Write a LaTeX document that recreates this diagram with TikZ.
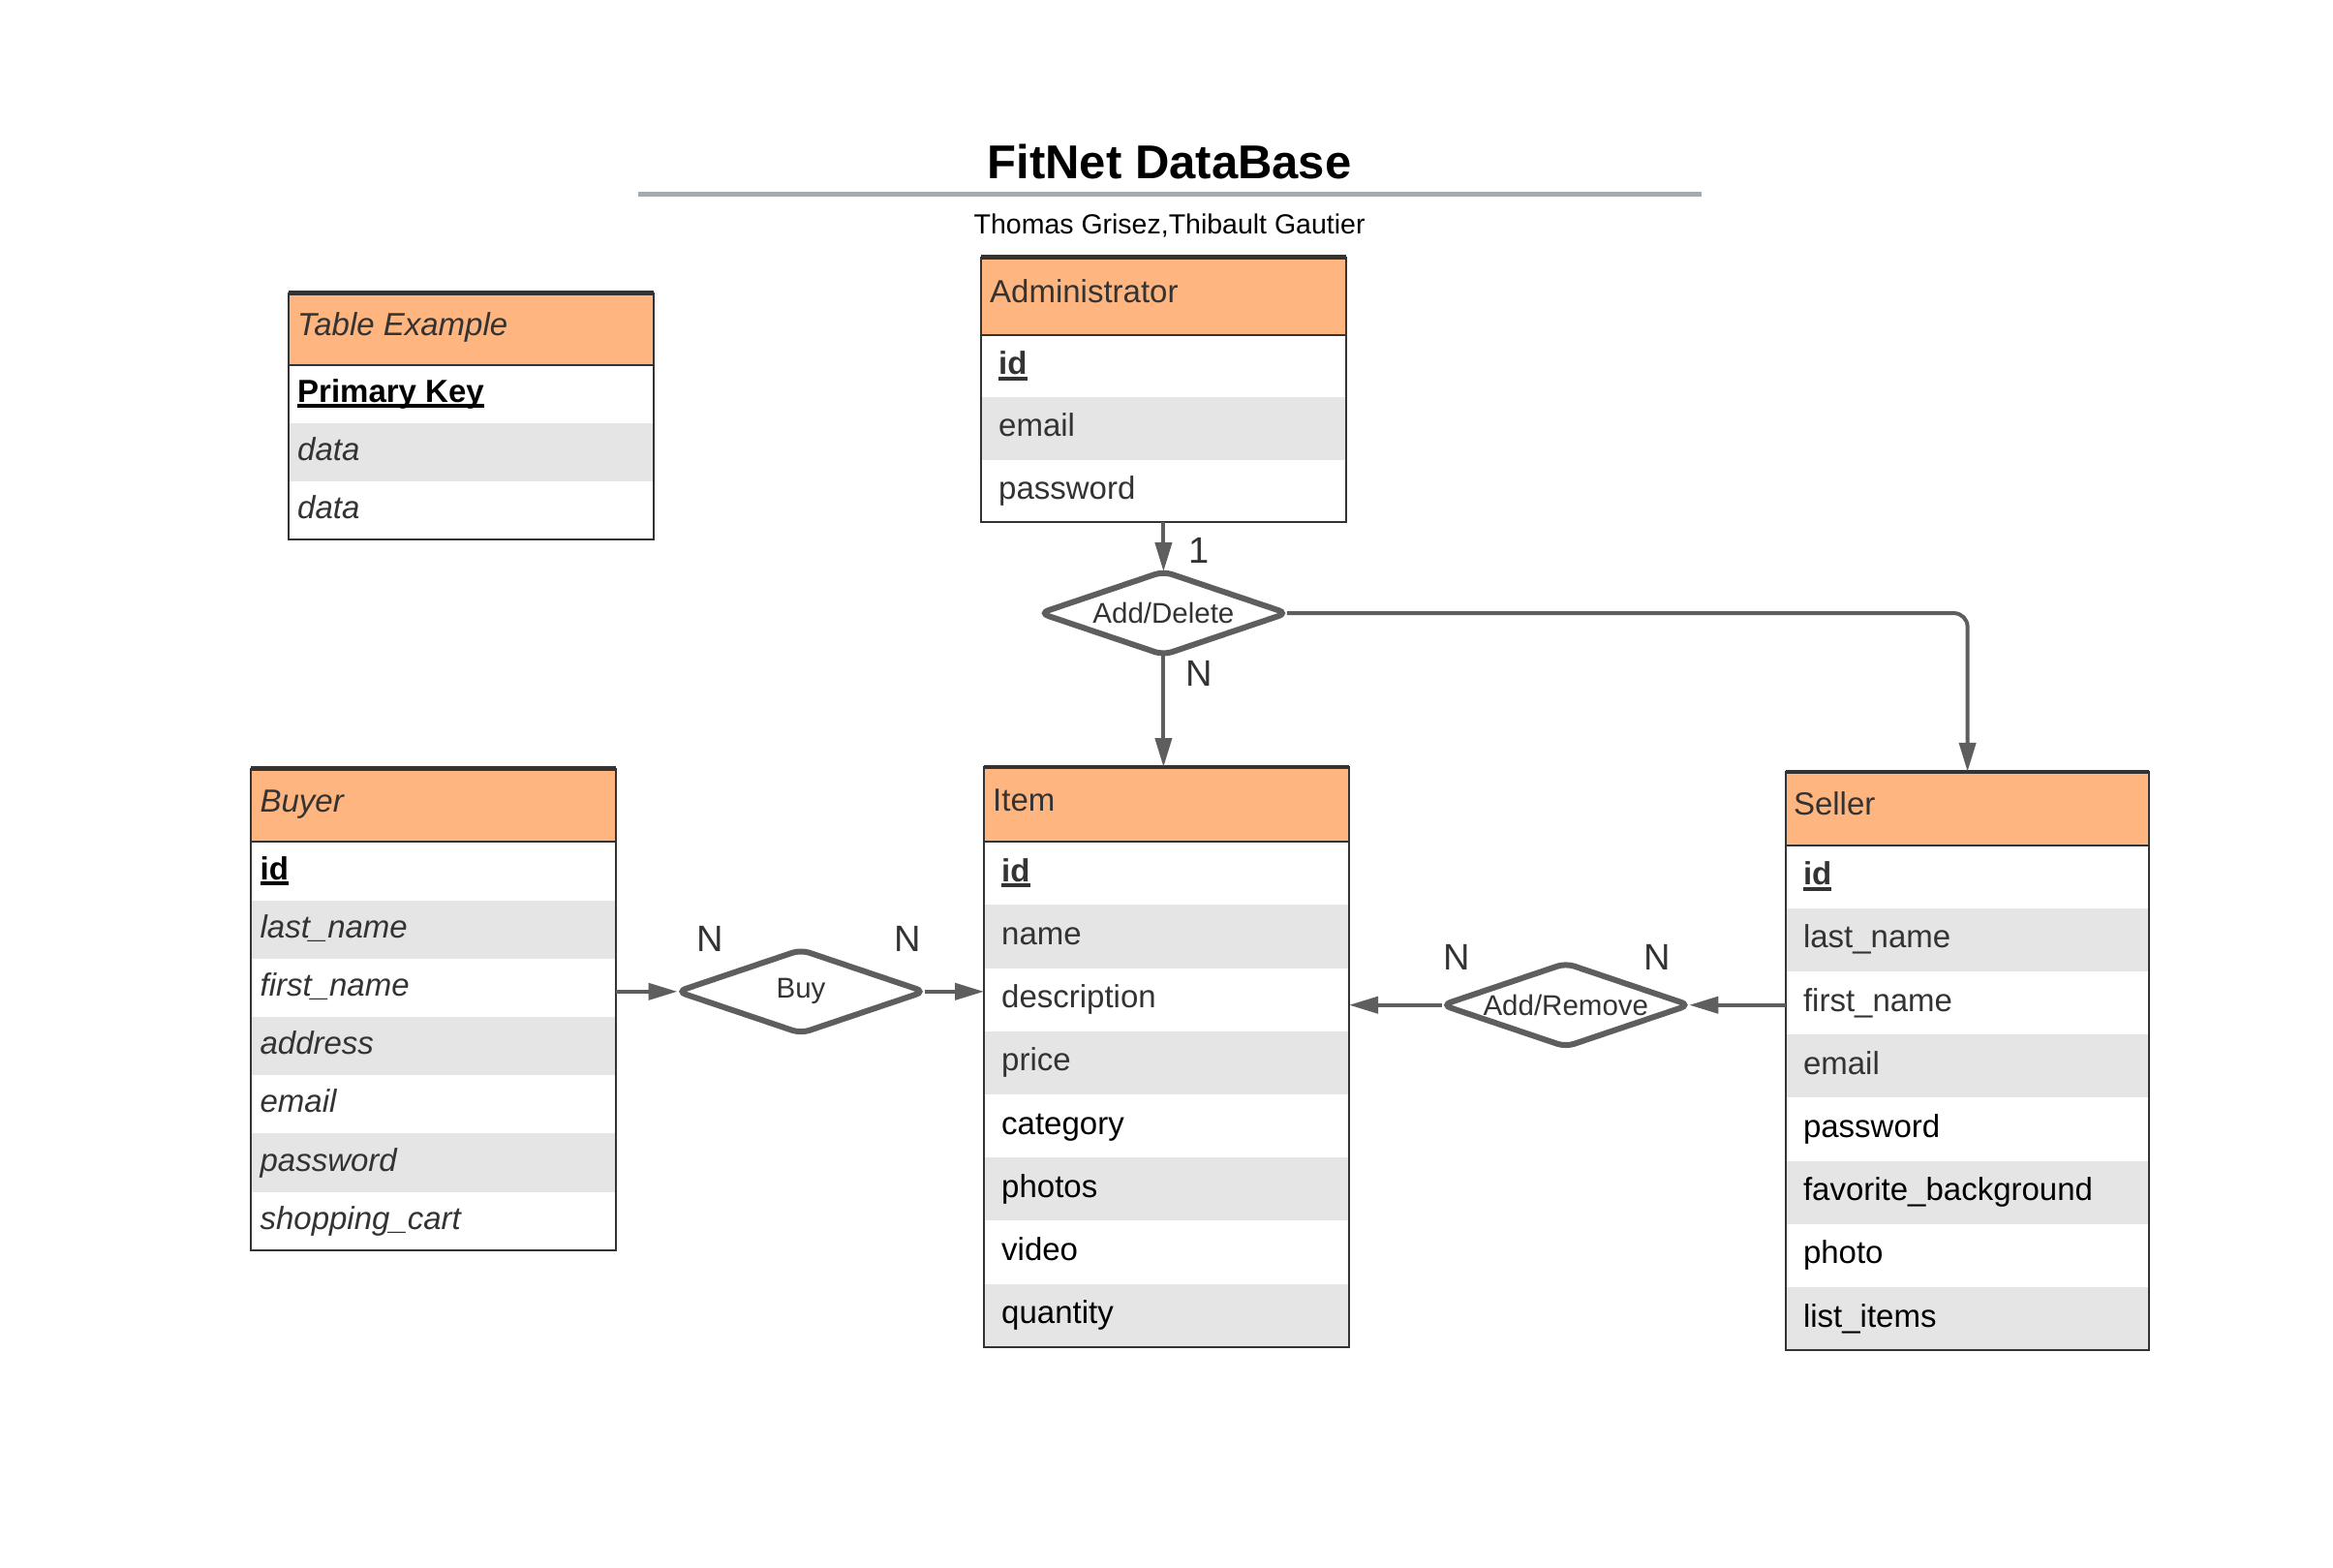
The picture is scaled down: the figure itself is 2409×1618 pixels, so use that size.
\documentclass[tikz,border=0pt]{standalone}
\usepackage{fontspec}
\setmainfont{Liberation Sans}
\usetikzlibrary{shapes.geometric,arrows.meta}
\definecolor{hdr}{HTML}{FFB57F}
\definecolor{rowgray}{HTML}{E5E5E5}
\definecolor{bord}{HTML}{333333}
\definecolor{txt}{HTML}{333333}
\definecolor{conn}{HTML}{5E5E5E}
\definecolor{rulec}{HTML}{A4AAB0}
\newlength\ulwidth
\newcommand\thickul[1]{\settowidth\ulwidth{#1}\rlap{\rule[-6pt]{\ulwidth}{4pt}}#1}
\tikzset{
  cell/.style={draw=none, inner sep=0pt, outer sep=0pt, anchor=north west},
  rowtext/.style={text=txt, inner sep=0pt, font=\fontsize{33}{40}\selectfont},
  frame/.style={draw=bord, line width=2pt},
  topline/.style={draw=bord, line width=4.5pt},
  rel/.style={shape=diamond, draw=conn, line width=6pt, fill=white, rounded corners=9pt,
    minimum width=255pt, minimum height=86pt, inner sep=0pt, outer sep=0pt, aspect=3, text=txt,
    font=\fontsize{29.5}{33}\selectfont},
  conn/.style={draw=conn, line width=4pt, -{Triangle[length=30pt,width=17pt]}},
  card/.style={text=txt, inner sep=0pt, font=\fontsize{38}{44}\selectfont},
}
\newcommand\hpad{9pt}
\newcommand\rpad{9pt}
% #1 name, #2 x, #3 y, #4 w, #5 header h, #6 row h, #7 n rows, #8 header text, #9 rows
\newcommand\ertable[9]{%
  \node[cell, fill=hdr, minimum width=#4pt, minimum height=#5pt] (#1) at (#2,#3) {};
  \node[rowtext, anchor=base west] (#1-title) at ([xshift=\hpad, yshift=-7.2pt]#1.west) {#8};
  \foreach \t [count=\i] in {#9} {
    \pgfmathtruncatemacro\odd{mod(\i,2)}
    \ifnum\odd=0 \def\fc{rowgray}\else\def\fc{white}\fi
    \node[cell, fill=\fc, minimum width=#4pt, minimum height=#6pt] (#1-\i) at (#2,{#3+#5+(\i-1)*#6}) {};
    \node[rowtext, anchor=base west] (#1-t\i) at ([xshift=\rpad, yshift=-8.5pt]#1-\i.west) {\t};
  }
  \draw[frame] (#1.north west) rectangle ({#2+#4},{#3+#5+#7*#6});
  \draw[frame] (#1.south west) -- (#1.south east);
  \draw[topline] (#1.north west) -- (#1.north east);
}
\begin{document}
\begin{tikzpicture}[x=1pt, y=-1pt]
\useasboundingbox (0,0) rectangle (2409,1618);
\fill[white] (0,0) rectangle (2409,1618);
% title
\node[anchor=base, inner sep=0pt, font=\bfseries\fontsize{49}{56}\selectfont] (title) at (1207.6,184) {FitNet DataBase};
\coordinate (rl) at (659.4,200.7);
\coordinate (rr) at (1757.3,200.7);
\draw[rulec, line width=4.5pt] (rl) -- (rr);
\node[anchor=base, inner sep=0pt, font=\fontsize{28.5}{32}\selectfont] (subtitle) at (1207.6,241.8) {Thomas Grisez,Thibault Gautier};
% tables
\renewcommand\hpad{9pt}\renewcommand\rpad{9pt}
\ertable{ex}{298}{302.7}{377}{74}{60.2}{3}{\itshape Table Example}{{\color{black}\bfseries\thickul{Primary Key}},\itshape data,\itshape data}
\renewcommand\rpad{18pt}
\ertable{admin}{1013}{265.6}{377}{80.3}{64.3}{3}{Administrator}{{\bfseries\thickul{id}},email,password}
\ertable{item}{1016}{792}{377}{77.2}{65.2}{8}{Item}{{\bfseries\thickul{id}},name,description,price,{\color{black}category},{\color{black}photos},{\color{black}video},{\color{black}quantity}}
\renewcommand\rpad{9pt}
\ertable{buyer}{259.4}{793.7}{377}{75.7}{60.2}{7}{\itshape Buyer}{{\color{black}\bfseries\thickul{id}},\itshape last\_name,\itshape first\_name,\itshape address,\itshape email,\itshape password,\itshape shopping\_cart}
\renewcommand\hpad{8pt}\renewcommand\rpad{18pt}
\ertable{seller}{1843.8}{796.8}{375.6}{75.7}{65.2}{8}{Seller}{{\bfseries\thickul{id}},last\_name,first\_name,email,{\color{black}password},{\color{black}favorite\_background},{\color{black}photo},{\color{black}list\_items}}
% relationships
\node[rel] (adddel) at (1201.4,633.1) {Add/Delete};
\node[rel] (buy) at (827,1023.8) {Buy};
\node[rel] (addrem) at (1616.8,1037.7) {Add/Remove};
% connectors
\draw[conn] (adddel.north |- admin-3.south) -- (adddel.north);
\draw[conn] (adddel.south) -- (adddel.south |- item.north);
\draw[conn, rounded corners=14pt] (adddel.east) -- (seller.north |- adddel.east) -- (seller.north);
\draw[conn] (buy.west -| buyer.east) -- (buy.west);
\draw[conn] (buy.east) -- (buy.east -| item.west);
\draw[conn] (addrem.east -| seller.west) -- (addrem.east);
\draw[conn] (addrem.west) -- (addrem.west -| item.east);
% cardinalities
\node[card] (c1) at (1238.5,568.3) {1};
\node[card] (c2) at (1238.5,695) {N};
\node[card] (c3) at (733.5,969.8) {N};
\node[card] (c4) at (937.3,969.8) {N};
\node[card] (c5) at (1504,988.3) {N};
\node[card] (c6) at (1711,988.3) {N};
\end{tikzpicture}
\end{document}
